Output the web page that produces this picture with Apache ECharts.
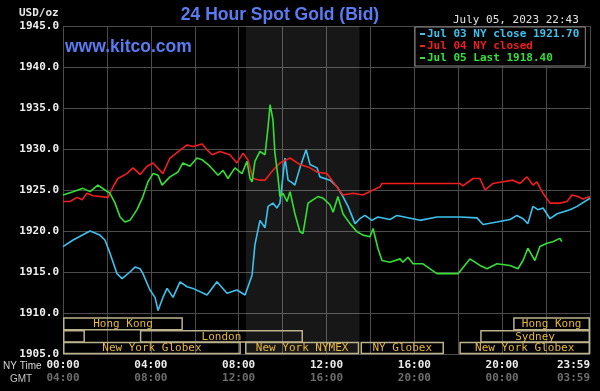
<!DOCTYPE html>
<html>
<head>
<meta charset="utf-8">
<script src="https://cdn.jsdelivr.net/npm/echarts@6/dist/echarts.min.js"></script>
<style>
html,body{margin:0;padding:0;background:#000;}
#chart{width:600px;height:391px;}
</style>
</head>
<body>
<div id="chart"></div>
<script>
// ---- data ----
const seriesNames = ['Jul 03 NY close 1921.70', 'Jul 04 NY closed', 'Jul 05 Last 1918.40'];

const jul03Hours = [0,0.46,1.23,1.68,1.91,2.14,2.46,2.69,3.05,3.28,3.51,3.64,3.96,4.19,4.33,4.55,4.74,5.01,5.33,5.65,5.92,6.56,7.01,7.47,7.92,8.29,8.61,8.74,8.97,9.2,9.34,9.56,9.74,9.88,10.11,10.25,10.43,10.56,10.79,11.07,11.25,11.57,11.7,12.16,12.48,12.75,12.98,13.3,13.52,13.75,14.07,14.34,14.89,15.21,16.26,17.03,18.08,18.85,19.13,19.76,20.36,20.67,20.95,21.17,21.4,21.63,21.86,22.18,22.5,23.09,23.41,24];
const jul03Prices = [1918.1,1918.9,1920.0,1919.5,1918.9,1917.3,1914.8,1914.2,1915.0,1915.6,1915.4,1914.8,1912.8,1911.9,1910.3,1911.9,1913.0,1911.9,1913.8,1913.2,1913.0,1912.2,1913.8,1912.4,1912.8,1912.2,1914.6,1918.3,1921.3,1920.4,1923.0,1923.4,1922.8,1923.4,1928.9,1926.2,1925.9,1925.6,1927.7,1929.9,1928.1,1927.7,1926.6,1926.2,1925.4,1924.2,1923.0,1920.9,1921.5,1921.9,1921.3,1921.7,1921.4,1921.9,1921.3,1921.7,1921.7,1921.6,1920.8,1921.1,1921.4,1921.9,1921.5,1920.9,1923.0,1922.6,1922.8,1921.5,1922.1,1922.6,1923.0,1924.0];

const jul04Hours = [0,0.32,0.64,0.87,1.09,1.37,2.05,2.28,2.5,2.91,3.19,3.51,3.83,4.1,4.19,4.55,4.87,5.65,5.92,6.33,6.56,6.79,7.15,7.6,7.92,8.2,8.42,8.65,8.97,9.2,9.56,9.88,10.34,10.79,11.25,11.57,12.02,12.3,12.75,13.21,13.66,14.12,14.44,14.53,18.08,18.21,18.67,18.99,19.22,19.58,20.04,20.49,20.81,21.13,21.4,21.58,21.86,22.18,22.63,22.95,23.18,23.45,23.68,24];
const jul04Prices = [1923.6,1923.6,1924.1,1923.8,1924.6,1924.3,1924.1,1925.4,1926.4,1927.0,1927.7,1926.9,1927.9,1928.3,1928.1,1927.0,1928.9,1930.5,1930.3,1930.6,1929.9,1929.3,1929.7,1929.3,1928.3,1929.5,1928.7,1926.4,1926.2,1926.2,1927.4,1928.3,1928.9,1928.1,1927.7,1927.2,1927.0,1926.0,1924.4,1924.6,1924.4,1925.0,1925.4,1925.8,1925.8,1925.5,1926.4,1926.4,1925.0,1925.8,1926.0,1926.2,1925.8,1926.6,1925.6,1926.0,1924.6,1923.4,1923.4,1923.6,1924.4,1924.2,1923.9,1924.2];

const jul05Hours = [0,0.46,0.91,1.23,1.59,1.91,2.14,2.37,2.6,2.82,3.05,3.37,3.64,3.87,4.1,4.33,4.51,4.87,5.24,5.46,5.78,6.1,6.33,6.69,7.06,7.29,7.51,7.83,8.15,8.38,8.52,8.61,8.74,8.97,9.2,9.34,9.43,9.56,9.65,9.79,9.88,10.02,10.2,10.34,10.56,10.79,10.93,11.16,11.38,11.61,11.84,12.16,12.3,12.52,12.75,13.07,13.39,13.66,13.98,14.12,14.34,14.53,14.89,15.35,15.48,15.71,15.94,16.39,17.03,17.99,18.53,18.99,19.31,19.76,20.36,20.72,20.95,21.17,21.49,21.72,22.04,22.31,22.63,22.72];
const jul05Prices = [1924.4,1924.8,1925.2,1924.8,1925.6,1925.0,1924.6,1923.4,1921.7,1921.1,1921.3,1922.6,1924.2,1926.0,1927.0,1926.8,1925.6,1926.6,1927.2,1928.3,1927.9,1928.9,1928.7,1927.9,1926.8,1927.4,1926.4,1927.7,1927.0,1928.5,1926.4,1926.0,1928.5,1929.7,1929.3,1932.7,1935.4,1933.6,1929.5,1926.6,1924.2,1924.6,1923.6,1924.8,1922.1,1919.9,1919.7,1923.4,1923.8,1924.2,1924.0,1923.2,1922.3,1924.2,1922.1,1920.9,1919.9,1919.5,1919.3,1920.3,1917.9,1916.4,1916.2,1916.6,1916.2,1916.8,1916.0,1916.0,1914.8,1914.8,1916.6,1915.8,1915.4,1916.0,1915.8,1915.4,1916.4,1917.9,1916.4,1918.1,1918.5,1918.7,1919.1,1918.7];

const nyTimeLabels = ['00:00','04:00','08:00','12:00','16:00','20:00','23:59'];
const gmtLabels    = ['04:00','08:00','12:00','16:00','20:00','00:00','03:59'];

const yMin = 1905, yMax = 1945, yStep = 5;

// NYMEX session (shaded)
const nymexStart = 8.33, nymexEnd = 13.5;

// trading session bars
const sessionNames = ['Hong Kong','Hong Kong','','London','Sydney','New York Globex','New York NYMEX','NY Globex','New York Globex'];
const sessionStart = [0, 20.5, 0, 3.5, 19.0, 0, 8.29, 13.55, 18.05];
const sessionEnd   = [5.46, 24, 1.0, 10.93, 24, 8.1, 13.49, 17.35, 24];
const sessionRow   = [0, 0, 1, 1, 1, 2, 2, 2, 2];

const titleText = '24 Hour Spot Gold (Bid)';
const siteText = 'www.kitco.com';
const dateText = 'July 05, 2023 22:43';

// ---- styles ----
const colors = ['#3cc2ee', '#f01e1e', '#34e034'];
const mono = '"DejaVu Sans Mono", monospace';
const rowTop = [1909.4, 1907.85, 1906.4];
const rowBottom = [1907.95, 1906.45, 1905.05];

const zip = (a, b) => a.map((x, i) => [x, b[i]]);

const chart = echarts.init(document.getElementById('chart'), null, {renderer: 'canvas'});

const lineSeries = [
  [jul03Hours, jul03Prices],
  [jul04Hours, jul04Prices],
  [jul05Hours, jul05Prices]
].map((d, i) => ({
  name: seriesNames[i],
  type: 'line',
  data: zip(d[0], d[1]),
  showSymbol: false,
  symbol: 'none',
  color: colors[i],
  lineStyle: {width: 1.6, color: colors[i]},
  z: 3 + i,
  animation: false
}));

lineSeries[0].markArea = {
  silent: true,
  itemStyle: {color: 'rgba(255,255,255,0.09)'},
  data: [[{xAxis: nymexStart}, {xAxis: nymexEnd}]]
};

const sessionSeries = {
  type: 'custom',
  silent: true,
  z: 2,
  data: sessionStart.map((s, i) => [s, sessionEnd[i], sessionRow[i]]),
  encode: {x: [0, 1], y: 2},
  renderItem: function (params, api) {
    const s = api.value(0), e = api.value(1), r = api.value(2);
    const p1 = api.coord([s, rowTop[r]]);
    const p2 = api.coord([e, rowBottom[r]]);
    const name = sessionNames[params.dataIndex];
    return {
      type: 'group',
      children: [
        {type: 'rect', shape: {x: p1[0] + 0.75, y: p1[1], width: p2[0] - p1[0] - 1.5, height: p2[1] - p1[1]},
         style: {fill: 'none', stroke: '#bcb28c', lineWidth: 1.5}},
        {type: 'text', style: {text: name, x: (p1[0] + p2[0]) / 2, y: (p1[1] + p2[1]) / 2 + 0.5,
          align: 'center', verticalAlign: 'middle', textAlign: 'center', textVerticalAlign: 'middle',
          fill: '#e9b83a', font: '11px ' + mono}}
      ]
    };
  },
  animation: false
};

const option = {
  backgroundColor: '#000',
  animation: false,
  grid: {left: 63, right: 10, top: 26, height: 328, containLabel: false},
  xAxis: {
    type: 'value', min: 0, max: 24, interval: 2,
    axisLine: {show: false}, axisTick: {show: false},
    splitLine: {show: true, lineStyle: {color: '#4c4c4c', width: 1}},
    axisLabel: {
      margin: 5,
      alignMaxLabel: 'right',
      formatter: function (v) {
        if (v % 4 !== 0) return '';
        const i = v / 4;
        return '{t|' + nyTimeLabels[i] + '}\n{g|' + gmtLabels[i] + '}';
      },
      rich: {
        t: {color: '#ececec', fontFamily: mono, fontWeight: 'bold', fontSize: 11, lineHeight: 13},
        g: {color: '#6e6e6e', fontFamily: mono, fontWeight: 'bold', fontSize: 11, lineHeight: 13}
      }
    }
  },
  yAxis: {
    type: 'value', min: yMin, max: yMax, interval: yStep,
    axisLine: {show: false}, axisTick: {show: false},
    splitLine: {show: true, lineStyle: {color: '#4c4c4c', width: 1}},
    axisLabel: {
      margin: 4, color: '#f0f0f0', fontFamily: mono, fontWeight: 'bold', fontSize: 11,
      formatter: v => v.toFixed(1)
    }
  },
  legend: {
    orient: 'vertical',
    left: 415, top: 27,
    padding: [1, 6, 2, 5],
    itemGap: 0,
    itemWidth: 5, itemHeight: 2,
    icon: 'rect',
    backgroundColor: '#000',
    borderColor: '#8a8a8a', borderWidth: 1,
    selectedMode: false,
    textStyle: {fontFamily: mono, fontWeight: 'bold', fontSize: 11, padding: [0, 0, 0, -3], lineHeight: 12},
    data: seriesNames.map((n, i) => ({name: n, textStyle: {color: colors[i]}, itemStyle: {color: colors[i]}}))
  },
  graphic: [
    {type: 'text', x: 280, y: 15, style: {text: titleText, align: 'center', verticalAlign: 'middle',
      fill: '#5a7cf2', font: 'bold 17.5px "Liberation Sans", Arial, sans-serif'}},
    {type: 'text', x: 65, y: 47, style: {text: siteText, align: 'left', verticalAlign: 'middle',
      fill: '#5a7cf2', font: 'bold 17.5px "Liberation Sans", Arial, sans-serif'}, z: 10},
    {type: 'text', x: 19, y: 13, style: {text: 'USD/oz', align: 'left', verticalAlign: 'middle',
      fill: '#e8e8e8', font: 'bold 11px ' + mono}},
    {type: 'text', x: 453, y: 20, style: {text: dateText, align: 'left', verticalAlign: 'middle',
      fill: '#e4e4e4', font: '11px ' + mono}},
    {type: 'text', x: 3, y: 366, style: {text: 'NY Time', align: 'left', verticalAlign: 'middle',
      fill: '#d8d8d8', font: '10px "Liberation Sans", sans-serif'}},
    {type: 'text', x: 10, y: 379, style: {text: 'GMT', align: 'left', verticalAlign: 'middle',
      fill: '#c4c4c4', font: '10px "Liberation Sans", sans-serif'}}
  ],
  series: [sessionSeries].concat(lineSeries)
};

chart.setOption(option);
</script>
</body>
</html>
